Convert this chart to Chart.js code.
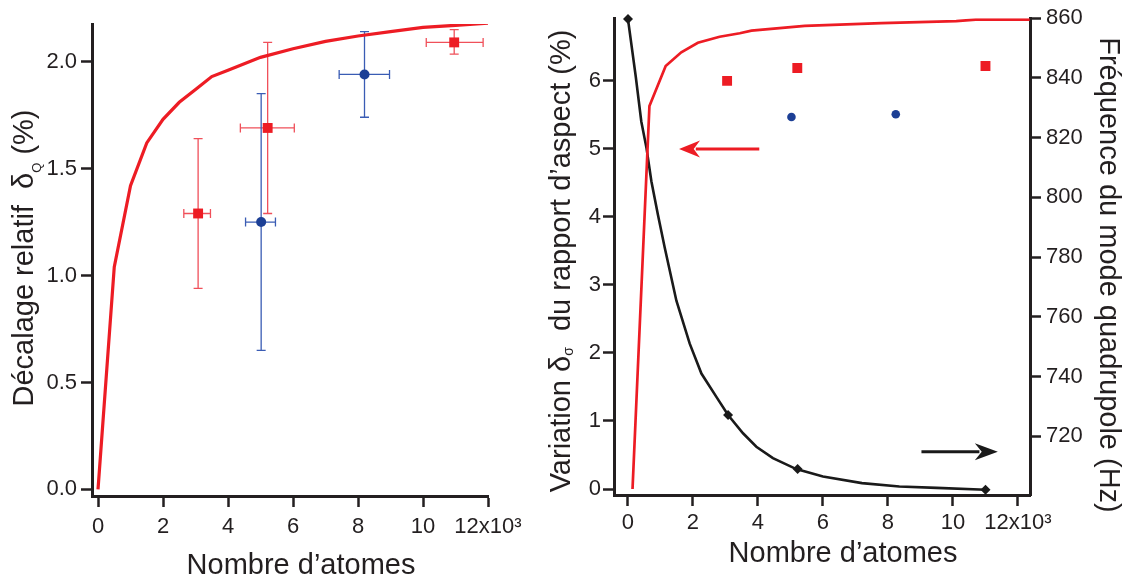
<!DOCTYPE html>
<html>
<head>
<meta charset="utf-8">
<script src="https://cdn.jsdelivr.net/npm/chart.js@4.4.1/dist/chart.umd.min.js"></script>
<style>
  body { margin: 0; background: #fff; }
  canvas { position: absolute; top: 0; }
  #left { left: 0; }
  #right { left: 540px; }
</style>
</head>
<body>
<canvas id="left" width="540" height="577"></canvas>
<canvas id="right" width="594" height="577"></canvas>
<script>
// ---- left panel: relative shift vs atom number (x in units of 10^3) ----
const fitN = [0, 0.5, 1, 1.5, 2, 2.5, 3, 3.5, 4, 5, 6, 7, 8, 9, 10, 11, 12];
const fitShift = [0, 1.04, 1.42, 1.62, 1.73, 1.81, 1.87, 1.93, 1.96, 2.02, 2.06, 2.095, 2.12, 2.14, 2.16, 2.17, 2.18];

const redN = [3.08, 5.22, 10.96];
const redShift = [1.29, 1.69, 2.09];
const redNLow = [2.64, 4.38, 10.1];
const redNHigh = [3.46, 6.04, 11.85];
const redShiftLow = [0.94, 1.29, 2.035];
const redShiftHigh = [1.64, 2.09, 2.15];

const blueN = [5.02, 8.2];
const blueShift = [1.25, 1.94];
const blueNLow = [4.54, 7.42];
const blueNHigh = [5.46, 8.97];
const blueShiftLow = [0.65, 1.74];
const blueShiftHigh = [1.85, 2.14];

// ---- right panel: aspect ratio variation (left axis) and quadrupole frequency (right axis) ----
const aspectFitN = [0.14, 0.66, 1.16, 1.64, 2.15, 2.82, 3.44, 3.8, 5.44, 7.8, 10.1, 10.7, 12.36];
const aspectFit = [0, 5.63, 6.22, 6.42, 6.56, 6.65, 6.70, 6.74, 6.81, 6.85, 6.88, 6.90, 6.90];
const aspectRedN = [3.05, 5.21, 11.0];
const aspectRed = [6.0, 6.19, 6.22];
const aspectBlueN = [5.03, 8.24];
const aspectBlue = [5.47, 5.51];

const freqN = [0, 0.24, 0.41, 0.57, 0.72, 0.92, 1.13, 1.49, 1.9, 2.26, 2.72, 3.08, 3.54, 3.95, 4.46, 5.18, 6.0, 7.2, 8.35, 9.5, 11.0];
const freq = [859.7, 840.4, 825.4, 816.5, 805.4, 794.3, 783.2, 765.4, 751.0, 741.0, 733.2, 727.1, 721.0, 716.5, 712.7, 709.0, 706.5, 704.3, 703.2, 702.7, 702.1];
const freqMarkN = [0, 3.08, 5.22, 11.0];
const freqMark = [859.7, 727.1, 709.0, 702.1];

// arrows telling which axis each curve belongs to: [x, y] in data units
const arrowAspectFrom = [4.04, 5.0];
const arrowAspectTo = [1.57, 5.0];
const arrowFreqFrom = [9.03, 714.8];
const arrowFreqTo = [11.38, 714.8];

// tick labels
const nTicks = [0, 2, 4, 6, 8, 10, 12];
const shiftTicks = [0, 0.5, 1, 1.5, 2];
const aspectTicks = [0, 1, 2, 3, 4, 5, 6];
const freqTicks = [720, 740, 760, 780, 800, 820, 840, 860];

const ink = '#231f20';
const red = '#ed1c24';
const blue = '#1c3f95';
const black = '#1a1a1a';
const family = '"Liberation Sans", Arial, Helvetica, sans-serif';

const pts = (xs, ys) => xs.map((x, i) => ({ x: x, y: ys[i] }));

// error bars drawn under the markers
const errorBars = {
    id: 'errorBars',
    beforeDatasetsDraw(chart) {
        const ctx = chart.ctx;
        chart.data.datasets.forEach(ds => {
            if (!ds.errors) return;
            const e = ds.errors;
            const xs = chart.scales.x, ys = chart.scales[ds.yAxisID || 'y'];
            ctx.save();
            ctx.strokeStyle = e.color;
            ctx.lineWidth = 1.3;
            ds.data.forEach((p, i) => {
                const px = xs.getPixelForValue(p.x), py = ys.getPixelForValue(p.y);
                const xl = xs.getPixelForValue(e.xLow[i]), xh = xs.getPixelForValue(e.xHigh[i]);
                const yl = ys.getPixelForValue(e.yLow[i]), yh = ys.getPixelForValue(e.yHigh[i]);
                const c = 4.5;
                ctx.beginPath();
                ctx.moveTo(xl, py); ctx.lineTo(xh, py);
                ctx.moveTo(px, yl); ctx.lineTo(px, yh);
                ctx.moveTo(xl, py - c); ctx.lineTo(xl, py + c);
                ctx.moveTo(xh, py - c); ctx.lineTo(xh, py + c);
                ctx.moveTo(px - c, yl); ctx.lineTo(px + c, yl);
                ctx.moveTo(px - c, yh); ctx.lineTo(px + c, yh);
                ctx.stroke();
            });
            ctx.restore();
        });
    }
};

// arrows in data coordinates
const arrows = {
    id: 'arrows',
    afterDatasetsDraw(chart, args, opts) {
        const ctx = chart.ctx;
        (opts.list || []).forEach(a => {
            const xs = chart.scales.x, ys = chart.scales[a.axis];
            const x0 = xs.getPixelForValue(a.from[0]), y0 = ys.getPixelForValue(a.from[1]);
            const x1 = xs.getPixelForValue(a.to[0]), y1 = ys.getPixelForValue(a.to[1]);
            const ang = Math.atan2(y1 - y0, x1 - x0);
            const hl = a.head, hw = a.half;
            ctx.save();
            ctx.strokeStyle = a.color; ctx.fillStyle = a.color; ctx.lineWidth = 3;
            ctx.beginPath();
            ctx.moveTo(x0, y0);
            ctx.lineTo(x1 - Math.cos(ang) * hl * 0.8, y1 - Math.sin(ang) * hl * 0.8);
            ctx.stroke();
            ctx.translate(x1, y1); ctx.rotate(ang);
            ctx.beginPath();
            ctx.moveTo(0, 0);
            ctx.lineTo(-hl, -hw);
            ctx.lineTo(-hl * 0.7, 0);
            ctx.lineTo(-hl, hw);
            ctx.closePath();
            ctx.fill();
            ctx.restore();
        });
    }
};

// axis titles with subscripts
const axisTitles = {
    id: 'axisTitles',
    afterDraw(chart, args, opts) {
        const ctx = chart.ctx;
        (opts.list || []).forEach(t => {
            ctx.save();
            ctx.translate(t.x, t.y);
            ctx.rotate(t.rot || 0);
            ctx.fillStyle = ink;
            ctx.textAlign = 'left';
            ctx.textBaseline = 'alphabetic';
            const fonts = t.parts.map(p => p.sub ? `${p.size || 15}px ${family}` : `29px ${family}`);
            const widths = t.parts.map((p, i) => { ctx.font = fonts[i]; return ctx.measureText(p.text).width; });
            let cx = -widths.reduce((a, b) => a + b, 0) / 2;
            t.parts.forEach((p, i) => {
                ctx.font = fonts[i];
                ctx.fillText(p.text, cx, p.sub ? p.dy : 0);
                cx += widths[i];
            });
            ctx.restore();
        });
    }
};

function axisStyle(extra) {
    return Object.assign({
        type: 'linear',
        grid: { display: true, drawOnChartArea: false, drawTicks: true, tickLength: 11, tickWidth: 2.5, tickColor: ink },
        border: { display: true, width: 3, color: ink },
        title: { display: false }
    }, extra);
}

const tickFont = { family: family, size: 22 };
const nLabel = v => v === 12 ? '12x10³' : String(v);

new Chart(document.getElementById('left'), {
    type: 'scatter',
    data: {
        datasets: [
            { data: pts(fitN, fitShift), showLine: true, borderColor: red, borderWidth: 3.2, pointRadius: 0, tension: 0 },
            {
                data: pts(redN, redShift), pointStyle: 'rect', pointRadius: 7, backgroundColor: red, borderWidth: 0,
                errors: { color: '#f0505a', xLow: redNLow, xHigh: redNHigh, yLow: redShiftLow, yHigh: redShiftHigh }
            },
            {
                data: pts(blueN, blueShift), pointStyle: 'circle', pointRadius: 5, backgroundColor: blue, borderWidth: 0,
                errors: { color: '#3a5cb4', xLow: blueNLow, xHigh: blueNHigh, yLow: blueShiftLow, yHigh: blueShiftHigh }
            }
        ]
    },
    options: {
        responsive: false,
        animation: false,
        layout: { padding: { top: 24, right: 52, left: 0, bottom: 0 } },
        plugins: {
            legend: { display: false },
            tooltip: { enabled: false },
            axisTitles: {
                list: [
                    { x: 301, y: 574, parts: [{ text: 'Nombre d’atomes' }] },
                    {
                        x: 33, y: 258, rot: -Math.PI / 2,
                        parts: [{ text: 'Décalage relatif  δ' }, { text: 'Q', sub: true, size: 13, dy: 8 }, { text: ' (%)' }]
                    }
                ]
            }
        },
        scales: {
            x: axisStyle({
                min: -0.185, max: 12,
                afterFit: s => { s.height = 81; },
                afterBuildTicks: s => { s.ticks = nTicks.map(v => ({ value: v })); },
                ticks: { font: tickFont, color: ink, padding: 7, maxRotation: 0, autoSkip: false, callback: nLabel }
            }),
            y: axisStyle({
                min: -0.031, max: 2.176,
                afterFit: s => { s.width = 92; },
                afterBuildTicks: s => { s.ticks = shiftTicks.map(v => ({ value: v })); },
                ticks: { font: tickFont, color: ink, padding: 4, autoSkip: false, callback: v => v.toFixed(1) }
            })
        }
    },
    plugins: [errorBars, axisTitles]
});

new Chart(document.getElementById('right'), {
    type: 'scatter',
    data: {
        datasets: [
            { data: pts(aspectFitN, aspectFit), yAxisID: 'y', showLine: true, borderColor: red, borderWidth: 2.7, pointRadius: 0, tension: 0 },
            { data: pts(freqN, freq), yAxisID: 'y2', showLine: true, borderColor: black, borderWidth: 2.6, pointRadius: 0, tension: 0 },
            { data: pts(freqMarkN, freqMark), yAxisID: 'y2', pointStyle: 'rectRot', pointRadius: 5, backgroundColor: black, borderWidth: 0, clip: false },
            { data: pts(aspectRedN, aspectRed), yAxisID: 'y', pointStyle: 'rect', pointRadius: 7, backgroundColor: red, borderWidth: 0 },
            { data: pts(aspectBlueN, aspectBlue), yAxisID: 'y', pointStyle: 'circle', pointRadius: 4.3, backgroundColor: blue, borderWidth: 0 }
        ]
    },
    options: {
        responsive: false,
        animation: false,
        layout: { padding: { top: 16, right: 0, left: 0, bottom: 0 } },
        plugins: {
            legend: { display: false },
            tooltip: { enabled: false },
            arrows: {
                list: [
                    { from: arrowAspectFrom, to: arrowAspectTo, axis: 'y', color: red, head: 21, half: 8.5 },
                    { from: arrowFreqFrom, to: arrowFreqTo, axis: 'y2', color: black, head: 23, half: 8.5 }
                ]
            },
            axisTitles: {
                list: [
                    { x: 303, y: 562, parts: [{ text: 'Nombre d’atomes' }] },
                    {
                        x: 30, y: 261, rot: -Math.PI / 2,
                        parts: [{ text: 'Variation δ' }, { text: 'σ', sub: true, size: 14, dy: 3 }, { text: '  du rapport d’aspect (%)' }]
                    },
                    { x: 560, y: 275, rot: Math.PI / 2, parts: [{ text: 'Fréquence du mode quadrupole (Hz)' }] }
                ]
            }
        },
        scales: {
            x: axisStyle({
                min: -0.43, max: 12.37,
                afterFit: s => { s.height = 82; },
                afterBuildTicks: s => { s.ticks = nTicks.map(v => ({ value: v })); },
                ticks: { font: tickFont, color: ink, padding: 4, maxRotation: 0, autoSkip: false, callback: nLabel }
            }),
            y: axisStyle({
                position: 'left',
                min: -0.088, max: 6.922,
                afterFit: s => { s.width = 74; },
                afterBuildTicks: s => { s.ticks = aspectTicks.map(v => ({ value: v })); },
                ticks: { font: tickFont, color: ink, padding: 2, autoSkip: false }
            }),
            y2: axisStyle({
                position: 'right',
                min: 700.33, max: 860,
                afterFit: s => { s.width = 104; },
                afterBuildTicks: s => { s.ticks = freqTicks.map(v => ({ value: v })); },
                ticks: { font: tickFont, color: ink, padding: 5, autoSkip: false }
            })
        }
    },
    plugins: [arrows, axisTitles]
});
</script>
</body>
</html>
